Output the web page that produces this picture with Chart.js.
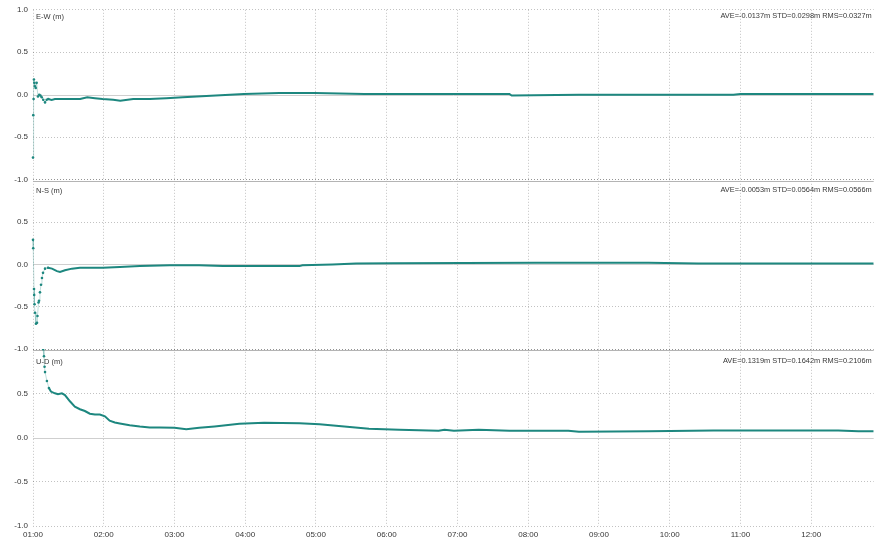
<!DOCTYPE html>
<html>
<head>
<meta charset="utf-8">
<script src="https://cdn.jsdelivr.net/npm/chart.js@4/dist/chart.umd.min.js"></script>
<style>
  html, body { margin: 0; padding: 0; background: #fff; }
  #wrap { position: relative; width: 875px; height: 541px; }
  canvas { display: block; }
</style>
</head>
<body>
<div id="wrap"><canvas id="enu" width="875" height="541"></canvas></div>
<script>
// Position error time series, minutes after 01:00
const ewMinutes = [0, 0.25, 0.5, 0.8, 1.1, 1.6, 2.3, 3.1, 4.2, 5.3, 6.3, 7.4, 8.7, 10.2, 11.6, 12.9, 15.8, 18.6, 27, 40, 46, 52.5, 59, 68, 74, 85, 99, 113, 127, 139, 155, 179, 209, 239, 281, 330, 404, 406, 463, 522, 594, 600, 649, 713];
const ewValues  = [-0.74, -0.24, -0.05, 0.18, 0.14, 0.10, 0.08, 0.14, -0.02, 0.00, -0.01, -0.03, -0.06, -0.09, -0.06, -0.05, -0.06, -0.05, -0.05, -0.05, -0.03, -0.04, -0.05, -0.06, -0.07, -0.05, -0.05, -0.04, -0.03, -0.02, -0.01, 0.01, 0.02, 0.02, 0.01, 0.01, 0.01, -0.01, 0.00, 0.00, 0.00, 0.01, 0.01, 0.01];

const nsMinutes = [0, 0.2, 0.85, 1.0, 1.3, 1.7, 2.5, 3.4, 3.8, 4.7, 5.1, 5.9, 6.8, 7.6, 8.5, 10.2, 12.7, 16.1, 20.3, 22.9, 27.1, 33, 39.8, 48.2, 59.2, 73.6, 90.6, 116, 141, 161, 226, 228.5, 254, 274, 305, 427, 463, 522, 564, 649, 713];
const nsValues  = [0.29, 0.19, -0.29, -0.36, -0.47, -0.57, -0.70, -0.69, -0.61, -0.45, -0.43, -0.33, -0.24, -0.16, -0.10, -0.05, -0.04, -0.05, -0.08, -0.09, -0.07, -0.05, -0.04, -0.04, -0.04, -0.03, -0.02, -0.01, -0.01, -0.02, -0.02, -0.01, 0.00, 0.01, 0.015, 0.02, 0.02, 0.02, 0.01, 0.01, 0.01];

const udMinutes = [0, 2, 4, 6, 8.5, 9.3, 9.8, 10.2, 11.8, 13.5, 15.2, 18.6, 21.2, 24.5, 27.1, 31.3, 35.5, 39.8, 44, 48.2, 52.5, 56.7, 61, 65, 69.4, 73.6, 82, 90.6, 99, 107.5, 120, 130, 141, 154, 175, 196, 226, 243, 264, 285, 310.6, 344, 349, 357, 378, 404, 454, 463, 522, 577, 615, 683, 700, 713];
const udValues  = [1.45, 1.32, 1.22, 1.12, 1.0, 0.92, 0.80, 0.74, 0.64, 0.56, 0.52, 0.50, 0.49, 0.50, 0.48, 0.41, 0.35, 0.32, 0.30, 0.27, 0.26, 0.26, 0.24, 0.19, 0.17, 0.16, 0.14, 0.125, 0.115, 0.115, 0.11, 0.095, 0.11, 0.125, 0.155, 0.167, 0.163, 0.15, 0.125, 0.10, 0.087, 0.076, 0.087, 0.076, 0.087, 0.076, 0.076, 0.065, 0.07, 0.08, 0.08, 0.08, 0.07, 0.07];

const panelTitles = ['E-W (m)', 'N-S (m)', 'U-D (m)'];
const panelStats = [
  'AVE=-0.0137m STD=0.0298m RMS=0.0327m',
  'AVE=-0.0053m STD=0.0564m RMS=0.0566m',
  'AVE=0.1319m STD=0.1642m RMS=0.2106m'
];
const yTickValues = [-1, -0.5, 0, 0.5, 1];
const hourTicks  = [0, 60, 120, 180, 240, 300, 360, 420, 480, 540, 600, 660];
const hourLabels = ['01:00', '02:00', '03:00', '04:00', '05:00', '06:00', '07:00', '08:00', '09:00', '10:00', '11:00', '12:00'];

const LINE = '#1d877f';
const LINE_FAINT = 'rgba(29,135,127,0.35)';
const GRID = 'rgba(0,0,0,0.24)';
const ZERO = '#cfcfcf';
const SEP = '#b4b4b4';
const TXT = '#363636';
const FONT = '"Liberation Sans", Arial, sans-serif';
const EARLY = 14;   // convergence phase drawn as separate dots

function points(mins, vals) {
  return mins.map((m, i) => ({ x: m, y: vals[i] }));
}

function series(label, mins, vals, axis) {
  return {
    label,
    data: points(mins, vals),
    yAxisID: axis,
    borderColor: LINE,
    backgroundColor: LINE,
    borderWidth: 2,
    pointRadius: c => (c.parsed && c.parsed.x < EARLY) ? 1.3 : 0,
    pointBorderWidth: 0,
    pointHoverRadius: 0,
    tension: 0,
    clip: false,
    segment: {
      borderColor: c => c.p1.parsed.x <= EARLY ? LINE_FAINT : LINE,
      borderWidth: c => c.p1.parsed.x <= EARLY ? 0.8 : 2
    }
  };
}

function yAxis(weight, hideTop) {
  return {
    type: 'linear',
    position: 'left',
    stack: 'enu',
    stackWeight: weight,
    min: -1,
    max: 1,
    afterBuildTicks: s => { s.ticks = yTickValues.map(v => ({ value: v })); },
    afterFit: s => { s.width = 33; },
    grid: {
      color: c => (c.tick && c.tick.value === 0) ? 'transparent' : GRID,
      drawTicks: false
    },
    border: { display: false, dash: [1, 2] },
    ticks: {
      padding: 5,
      color: TXT,
      font: { family: FONT, size: 8 },
      callback: v => (hideTop && v === 1) ? '' : v.toFixed(1)
    }
  };
}

const panelAxes = ['yEW', 'yNS', 'yUD'];
const titleOffsets = [7, 11, 12.5];

// Clip each series to its own panel, draw zero lines, separators and captions
const panelDecor = {
  id: 'panelDecor',
  beforeDatasetsDraw(chart) {
    const ctx = chart.ctx;
    const xs = chart.scales.x;
    panelAxes.forEach((id, i) => {
      const ys = chart.scales[id];
      ctx.save();
      ctx.lineWidth = 1;
      ctx.strokeStyle = ZERO;
      const y0 = Math.round(ys.getPixelForValue(0)) + 0.5;
      ctx.beginPath(); ctx.moveTo(xs.left, y0); ctx.lineTo(xs.right, y0); ctx.stroke();
      if (i > 0) {
        const yt = Math.round(ys.top) + 1.5;
        ctx.strokeStyle = SEP;
        ctx.beginPath(); ctx.moveTo(xs.left, yt); ctx.lineTo(xs.right, yt); ctx.stroke();
      }
      ctx.restore();
    });
  },
  beforeDatasetDraw(chart, args) {
    const ys = args.meta.yScale;
    const a = chart.chartArea;
    chart.ctx.save();
    chart.ctx.beginPath();
    chart.ctx.rect(a.left - 3, ys.top, a.right - a.left + 3, ys.bottom - ys.top);
    chart.ctx.clip();
  },
  afterDatasetDraw(chart) {
    chart.ctx.restore();
  },
  afterDraw(chart) {
    const ctx = chart.ctx;
    const xs = chart.scales.x;
    panelAxes.forEach((id, i) => {
      const ys = chart.scales[id];
      const y = ys.top + titleOffsets[i];
      ctx.save();
      ctx.fillStyle = TXT;
      ctx.textBaseline = 'middle';
      ctx.font = '7.5px ' + FONT;
      ctx.textAlign = 'left';
      ctx.fillText(panelTitles[i], xs.left + 3, y);
      ctx.font = '7.4px ' + FONT;
      ctx.textAlign = 'right';
      ctx.fillText(panelStats[i], xs.right - 2, y - 0.8);
      ctx.restore();
    });
  }
};

new Chart(document.getElementById('enu'), {
  type: 'line',
  data: {
    datasets: [
      series('E-W', ewMinutes, ewValues, 'yEW'),
      series('N-S', nsMinutes, nsValues, 'yNS'),
      series('U-D', udMinutes, udValues, 'yUD')
    ]
  },
  options: {
    responsive: false,
    animation: false,
    events: [],
    layout: { padding: { top: 9.5, left: 0, right: 0, bottom: 0 } },
    plugins: { legend: { display: false }, tooltip: { enabled: false } },
    scales: {
      x: {
        type: 'linear',
        min: 0,
        max: 713,
        afterBuildTicks: s => { s.ticks = hourTicks.map(v => ({ value: v })); },
        afterFit: s => { s.height = 15; },
        grid: { color: GRID, drawTicks: false },
        border: { display: false, dash: [1, 2] },
        ticks: {
          padding: 4,
          autoSkip: false,
          maxRotation: 0,
          color: TXT,
          font: { family: FONT, size: 8 },
          callback: v => { const k = hourTicks.indexOf(v); return k < 0 ? '' : hourLabels[k]; }
        }
      },
      yUD: yAxis(177, true),
      yNS: yAxis(169.5, true),
      yEW: yAxis(170, false)
    }
  },
  plugins: [panelDecor]
});
</script>
</body>
</html>
